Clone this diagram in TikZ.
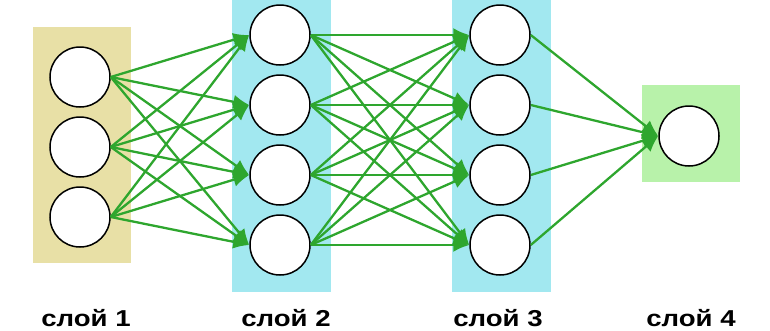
\documentclass[tikz,border=0pt]{standalone}
\usepackage{fontspec}
\usepackage{graphicx}
\setmainfont{Liberation Sans}
\usetikzlibrary{arrows.meta}
\definecolor{boxtan}{HTML}{E8E0A6}
\definecolor{boxcyan}{HTML}{A2E8F0}
\definecolor{boxgreen}{HTML}{B8F2AA}
\definecolor{linegreen}{HTML}{2EA62E}
\tikzset{
  neuron/.style={circle,draw=black,line width=1.5pt,fill=white,minimum size=60pt,inner sep=0pt},
  conn/.style={draw=linegreen,line width=2.3pt,-{Latex[length=16pt,width=14pt]}},
  layerlabel/.style={font=\fontsize{23}{26}\selectfont\bfseries,inner sep=0pt,anchor=base}
}
\newcommand{\widelabel}[1]{\scalebox{1.2}[1]{#1}}
\begin{document}
\begin{tikzpicture}[x=1pt,y=-1pt]
\useasboundingbox (0,0) rectangle (770,330);
% layer backgrounds
\fill[boxtan] (33,27) rectangle (131,263);
\fill[boxcyan] (232,0) rectangle (331,292);
\fill[boxcyan] (452,0) rectangle (551,292);
\fill[boxgreen] (642,85) rectangle (740,182);
% neurons
\foreach \i/\y in {1/77,2/147,3/217} \node[neuron] (a\i) at (80,\y) {};
\foreach \i/\y in {1/35,2/105,3/175,4/245} \node[neuron] (b\i) at (280,\y) {};
\foreach \i/\y in {1/35,2/105,3/175,4/245} \node[neuron] (c\i) at (500,\y) {};
\node[neuron] (d1) at (689,136) {};
% connections
\foreach \i in {1,2,3} \foreach \j in {1,2,3,4} \draw[conn] (a\i.east) -- (b\j.west);
\foreach \i in {1,2,3,4} \foreach \j in {1,2,3,4} \draw[conn] (b\i.east) -- (c\j.west);
\foreach \i in {1,2,3,4} \draw[conn] (c\i.east) -- (d1.west);
% labels
\node[layerlabel] (l1) at (86,326.5) {\widelabel{слой 1}};
\node[layerlabel] (l2) at (286,326.5) {\widelabel{слой 2}};
\node[layerlabel] (l3) at (498,326.5) {\widelabel{слой 3}};
\node[layerlabel] (l4) at (691,326.5) {\widelabel{слой 4}};
\end{tikzpicture}
\end{document}
